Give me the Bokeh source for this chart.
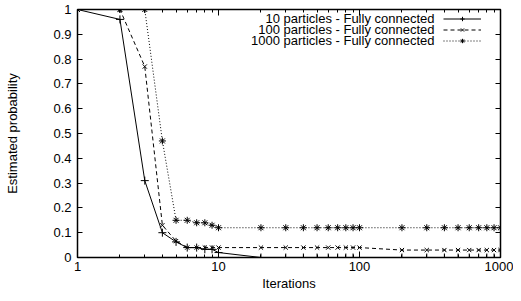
from bokeh.plotting import figure
from bokeh.models import (FixedTicker, NumeralTickFormatter, LogAxis, LinearAxis,
                          Legend, LegendItem, Label, Range1d)
from bokeh.embed import file_html
from bokeh.resources import INLINE

# ---- data ----
iterations = [1, 2, 3, 4, 5, 6, 7, 8, 9, 10,
              20, 30, 40, 50, 60, 70, 80, 90, 100,
              200, 300, 400, 500, 600, 700, 800, 900, 1000]
p10 = [1.0, 0.96, 0.31, 0.10, 0.063, 0.04, 0.04, 0.033, 0.033, 0.02,
       0.0, 0.0, 0.0, 0.0, 0.0, 0.0, 0.0, 0.0, 0.0,
       0.0, 0.0, 0.0, 0.0, 0.0, 0.0, 0.0, 0.0, 0.0]
p100 = [1.0, 1.0, 0.77, 0.13, 0.066, 0.04, 0.04, 0.04, 0.04, 0.04,
        0.04, 0.04, 0.04, 0.04, 0.04, 0.04, 0.04, 0.04, 0.04,
        0.03, 0.03, 0.03, 0.03, 0.03, 0.03, 0.03, 0.03, 0.03]
p1000 = [1.0, 1.0, 1.0, 0.47, 0.15, 0.15, 0.14, 0.14, 0.13, 0.12,
         0.12, 0.12, 0.12, 0.12, 0.12, 0.12, 0.12, 0.12, 0.12,
         0.12, 0.12, 0.12, 0.12, 0.12, 0.12, 0.12, 0.12, 0.12]
series_labels = ["10 particles - Fully connected",
                 "100 particles - Fully connected",
                 "1000 particles - Fully connected"]
x_ticks = [1, 10, 100, 1000]
x_minor_ticks = [2, 3, 4, 5, 6, 7, 8, 9,
                 20, 30, 40, 50, 60, 70, 80, 90,
                 200, 300, 400, 500, 600, 700, 800, 900]
y_ticks = [0, 0.1, 0.2, 0.3, 0.4, 0.5, 0.6, 0.7, 0.8, 0.9, 1]
x_title = "Iterations"
y_title = "Estimated probability"

FONT = "Liberation Sans"
FS = "13px"

p = figure(width=513, height=293, x_axis_type="log",
           x_range=Range1d(1, 1000), y_range=Range1d(0, 1),
           output_backend="svg", toolbar_location=None,
           min_border_left=77, min_border_right=13,
           min_border_top=9, min_border_bottom=33)
p.xgrid.visible = False
p.ygrid.visible = False
p.outline_line_color = "black"
p.outline_line_width = 1.5
p.background_fill_color = "white"
p.border_fill_color = "white"

xa = p.xaxis[0]
xa.ticker = FixedTicker(ticks=x_ticks, minor_ticks=x_minor_ticks)
xa.formatter = NumeralTickFormatter(format="0")
xa.axis_line_color = None
xa.major_tick_in = 6
xa.major_tick_out = 0
xa.minor_tick_in = 3
xa.minor_tick_out = 0
xa.major_tick_line_color = "black"
xa.minor_tick_line_color = "black"
xa.major_label_standoff = 4
xa.major_label_text_font = FONT
xa.major_label_text_font_size = FS
xa.major_label_text_color = "black"
xa.axis_label = x_title
xa.axis_label_standoff = 2
xa.axis_label_text_font = FONT
xa.axis_label_text_font_size = FS
xa.axis_label_text_font_style = "normal"
xa.axis_label_text_color = "black"

ya = p.yaxis[0]
ya.ticker = FixedTicker(ticks=y_ticks, minor_ticks=[])
ya.formatter = NumeralTickFormatter(format="0.[0]")
ya.axis_line_color = None
ya.major_tick_in = 5
ya.major_tick_out = 0
ya.minor_tick_in = 0
ya.minor_tick_out = 0
ya.major_tick_line_color = "black"
ya.major_label_standoff = 6
ya.major_label_text_font = FONT
ya.major_label_text_font_size = FS
ya.major_label_text_color = "black"
ya.axis_label = y_title
ya.axis_label_standoff = 30
ya.axis_label_text_font = FONT
ya.axis_label_text_font_size = FS
ya.axis_label_text_font_style = "normal"
ya.axis_label_text_color = "black"

# mirrored ticks (gnuplot style), labels not drawn
top = LogAxis(ticker=FixedTicker(ticks=x_ticks, minor_ticks=x_minor_ticks),
              axis_line_color=None, major_tick_in=6, major_tick_out=0,
              minor_tick_in=3, minor_tick_out=0,
              major_tick_line_color="black", minor_tick_line_color="black",
              major_label_text_font_size="1px", major_label_text_color=None,
              major_label_standoff=0)
p.add_layout(top, "above")
right = LinearAxis(ticker=FixedTicker(ticks=y_ticks, minor_ticks=[]),
                   axis_line_color=None, major_tick_in=5, major_tick_out=0,
                   minor_tick_in=0, minor_tick_out=0,
                   major_tick_line_color="black",
                   major_label_text_font_size="1px", major_label_text_color=None,
                   major_label_standoff=0)
p.add_layout(right, "right")

styles = [
    (p10, "solid", "cross", 8),
    (p100, "4 3", "x", 6),
    (p1000, "1 2", "asterisk", 7),
]
items = []
for ys, dash, marker, size in styles:
    lr = p.line(iterations, ys, line_color="black", line_width=1, line_dash=dash)
    sr = p.scatter(iterations, ys, marker=marker, size=size,
                   line_color="black", fill_color="black", line_width=1)
    items.append(LegendItem(label=" ", renderers=[lr, sr]))

legend = Legend(items=items, location=(366, 211), glyph_width=38, glyph_height=11,
                spacing=0, padding=0, margin=0, label_standoff=1, label_width=1,
                label_height=1, label_text_font_size="2px",
                border_line_color=None, background_fill_alpha=0)
p.add_layout(legend)

for i, txt in enumerate(series_labels):
    p.add_layout(Label(x=357, y=239 - 11 * i, x_units="screen", y_units="screen",
                       text=txt, text_align="right", text_baseline="middle",
                       text_font=FONT, text_font_size=FS, text_color="black"))

open("out.html", "w").write(file_html(p, INLINE))
